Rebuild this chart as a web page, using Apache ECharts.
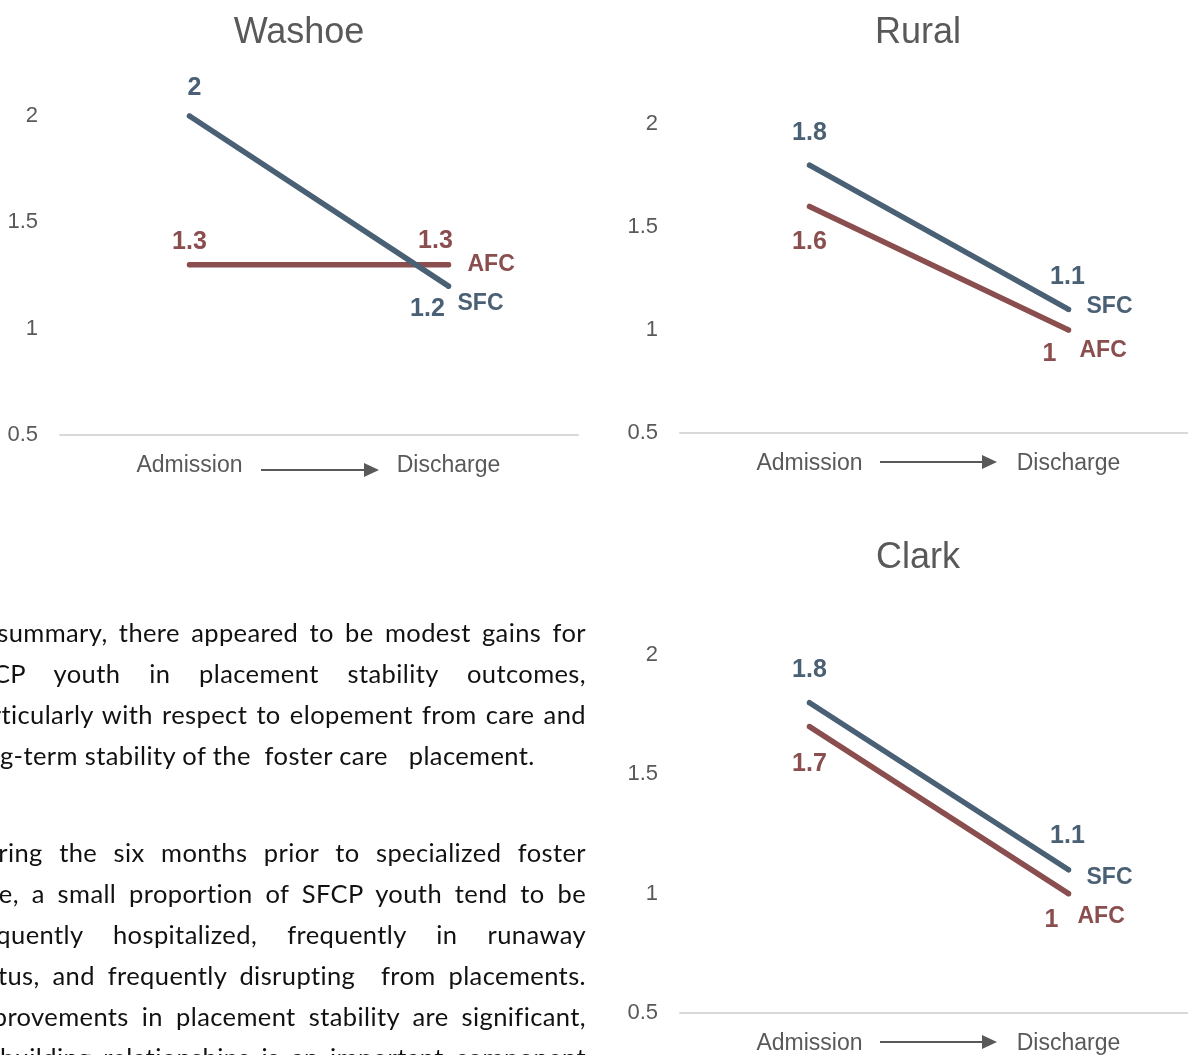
<!DOCTYPE html>
<html>
<head>
<meta charset="utf-8">
<title>Placement stability by region</title>
<script src="https://cdn.jsdelivr.net/npm/echarts@6/dist/echarts.min.js"></script>
<style>
  html, body {
    margin: 0;
    padding: 0;
    background: #ffffff;
    overflow: hidden;
  }

  #chart {
    position: absolute;
    left: 0;
    top: 0;
    width: 1188px;
    height: 1055px;
  }

  .summary {
    position: absolute;
    left: -36px;
    width: 622px;
    font-family: Lato, "Open Sans", sans-serif;
    font-size: 25.5px;
    letter-spacing: 0.4px;
    line-height: 41px;
    color: #111111;
  }

  .summary div {
    text-align: justify;
    text-align-last: justify;
  }

  .summary div.last {
    text-align-last: left;
  }
</style>
</head>
<body>
<div id="chart"></div>

<div class="summary" style="top: 612px">
  <div>In summary, there appeared to be modest gains for</div>
  <div>SFCP youth in placement stability outcomes,</div>
  <div>particularly with respect to elopement from care and</div>
  <div class="last">long-term stability of the&nbsp; foster care &nbsp;&nbsp;placement.</div>
</div>
<div class="summary" style="top: 832px">
  <div>During the six months prior to specialized foster</div>
  <div>care, a small proportion of SFCP youth tend to be</div>
  <div>frequently hospitalized, frequently in runaway</div>
  <div>status, and frequently disrupting&nbsp; from placements.</div>
  <div>Improvements in placement stability are significant,</div>
  <div>as building relationships is an important component</div>
</div>

<script>
// values
const categories = ["Admission", "Discharge"];
const seriesNames = ["SFC", "AFC"];
const panelTitles = ["Washoe", "Rural", "Clark"];
const yTicks = [0.5, 1, 1.5, 2];

const washoeSFC = [2, 1.2];
const washoeAFC = [1.3, 1.3];
const ruralSFC = [1.8, 1.1];
const ruralAFC = [1.6, 1];
const clarkSFC = [1.8, 1.1];
const clarkAFC = [1.7, 1];

const FONT = '"Liberation Sans", Arial, sans-serif';
const GREY = "#595959";
const SFC_COLOR = "#4a6074";
const AFC_COLOR = "#8a4e4e";

let chart = echarts.init(document.getElementById("chart"), null, {
  renderer: "canvas",
});

// the right-hand panels run past the page edge, like the source slide
let grids = [
  { left: 60, top: 116, width: 518, height: 319, outerBoundsMode: "none" },
  { left: 680, top: 124, width: 518, height: 309, outerBoundsMode: "none" },
  { left: 680, top: 655, width: 518, height: 358, outerBoundsMode: "none" },
];

function makeTitle(text, x, y) {
  return {
    text: text,
    left: x,
    top: y,
    padding: 0,
    textAlign: "center",
    textStyle: {
      fontFamily: FONT,
      fontSize: 36,
      fontWeight: "normal",
      color: GREY,
    },
  };
}

function makeXAxis(idx) {
  return {
    type: "category",
    gridIndex: idx,
    data: categories,
    boundaryGap: true,
    axisTick: { show: false },
    axisLine: { show: true, lineStyle: { color: "#d9d9d9", width: 2 } },
    axisLabel: {
      margin: 19,
      fontFamily: FONT,
      fontSize: 23,
      color: GREY,
    },
    splitLine: { show: false },
  };
}

function makeYAxis(idx) {
  return {
    type: "value",
    gridIndex: idx,
    min: yTicks[0],
    max: yTicks[yTicks.length - 1],
    interval: yTicks[1] - yTicks[0],
    axisLine: { show: false },
    axisTick: { show: false },
    splitLine: { show: false },
    axisLabel: {
      margin: 22,
      fontFamily: FONT,
      fontSize: 22,
      color: GREY,
    },
  };
}

// offsets: label centre relative to the point, end: [distance, dy] for the series name
function makeLine(idx, name, values, color, offsets, end) {
  return {
    type: "line",
    name: name,
    xAxisIndex: idx,
    yAxisIndex: idx,
    data: values.map(function (v, i) {
      return { value: v, label: { offset: offsets[i] } };
    }),
    symbol: "circle",
    symbolSize: 5,
    showSymbol: true,
    itemStyle: { color: color },
    lineStyle: { color: color, width: 5.5, cap: "round" },
    label: {
      show: true,
      position: "inside",
      align: "center",
      verticalAlign: "middle",
      fontFamily: FONT,
      fontSize: 25,
      fontWeight: "bold",
      color: color,
    },
    endLabel: {
      show: true,
      formatter: "{a}",
      distance: end[0],
      offset: [0, end[1]],
      align: "left",
      verticalAlign: "middle",
      fontFamily: FONT,
      fontSize: 23,
      fontWeight: "bold",
      color: color,
    },
    silent: true,
  };
}

function arrow(x1, x2, y) {
  return {
    type: "group",
    children: [
      {
        type: "line",
        shape: { x1: x1, y1: y, x2: x2 - 14, y2: y },
        style: { stroke: GREY, lineWidth: 2 },
      },
      {
        type: "polygon",
        shape: {
          points: [
            [x2 - 15, y - 7],
            [x2, y],
            [x2 - 15, y + 7],
          ],
        },
        style: { fill: GREY },
      },
    ],
  };
}

let option = {
  animation: false,
  backgroundColor: "#ffffff",
  title: [
    makeTitle(panelTitles[0], 299, 15),
    makeTitle(panelTitles[1], 918, 15),
    makeTitle(panelTitles[2], 918, 540),
  ],
  grid: grids,
  xAxis: [makeXAxis(0), makeXAxis(1), makeXAxis(2)],
  yAxis: [makeYAxis(0), makeYAxis(1), makeYAxis(2)],
  series: [
    // Washoe
    makeLine(0, seriesNames[1], washoeAFC, AFC_COLOR, [[0, -23], [-13, -24]], [19, 0]),
    makeLine(0, seriesNames[0], washoeSFC, SFC_COLOR, [[5, -28], [-21, 23]], [9, 18]),
    // Rural
    makeLine(1, seriesNames[1], ruralAFC, AFC_COLOR, [[0, 36], [-19, 24]], [11, 21]),
    makeLine(1, seriesNames[0], ruralSFC, SFC_COLOR, [[0, -32], [-1, -32]], [18, -3]),
    // Clark
    makeLine(2, seriesNames[1], clarkAFC, AFC_COLOR, [[0, 38], [-17, 26]], [9, 23]),
    makeLine(2, seriesNames[0], clarkSFC, SFC_COLOR, [[0, -33], [-1, -34]], [18, 8]),
  ],
  graphic: [arrow(261, 379, 470), arrow(880, 997, 462), arrow(880, 997, 1042)],
};

chart.setOption(option);
</script>
</body>
</html>
